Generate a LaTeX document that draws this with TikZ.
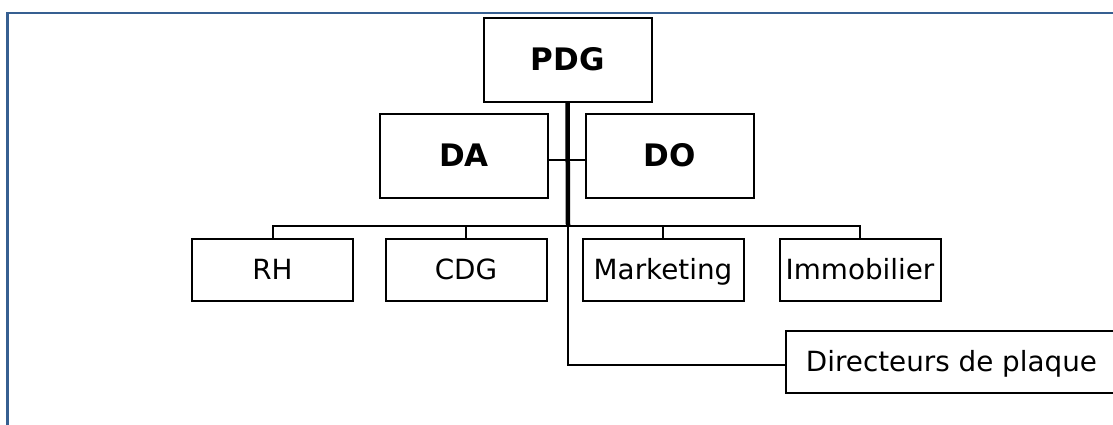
\documentclass[tikz,border=0pt]{standalone}
\usepackage{fontspec}
\setmainfont{DejaVu Sans}
\usepackage{xcolor}
\usepackage{tikz}
\usetikzlibrary{positioning}
\definecolor{framebl}{RGB}{54,95,145}

\begin{document}
\begin{tikzpicture}[x=1pt,y=-1pt,
    box/.style={draw,line width=2pt,minimum width=161pt,minimum height=62pt,inner sep=0pt,
      text height=24pt,text depth=6pt,font=\fontsize{27.8}{33}\selectfont},
    bigbox/.style={draw,line width=2pt,minimum width=168pt,minimum height=84pt,inner sep=0pt,
      font=\fontsize{31}{37}\selectfont\bfseries},
    link/.style={line width=2pt}]
    \useasboundingbox (0,0) rectangle (1113,424);
    \clip (0,0) rectangle (1113,424);
    \draw[framebl,line width=2.5pt] (7.5,13) rectangle (1140,450);
    \node[bigbox] (PDG) at (567.5,59.5) {PDG};
    \node[bigbox] (DA) at (464,155.5) {DA};
    \node[bigbox] (DO) at (670,155.5) {DO};
    \node[box] (RH) at (272.5,270) {RH};
    \node[box] (CDG) at (466,270) {CDG};
    \node[box] (MK) at (663,270) {Marketing};
    \node[box] (IM) at (860,270) {Immobilier};
    \node[box,minimum width=331pt] (DP) at (951.5,362) {Directeurs de plaque};
    \coordinate (hub) at (568,226);
    \draw[line width=4.5pt] (PDG.south) -- (hub);
    \draw[link] ([yshift=-4pt]DA.east) -- ([yshift=-4pt]DO.west);
    \draw[link] (RH.north) -- (RH.north |- hub) -- (IM.north |- hub) -- (IM.north);
    \draw[link] (CDG.north) -- (CDG.north |- hub);
    \draw[link] (MK.north) -- (MK.north |- hub);
    \draw[link] (hub) |- ([yshift=-3pt]DP.west);
\end{tikzpicture}
\end{document}
